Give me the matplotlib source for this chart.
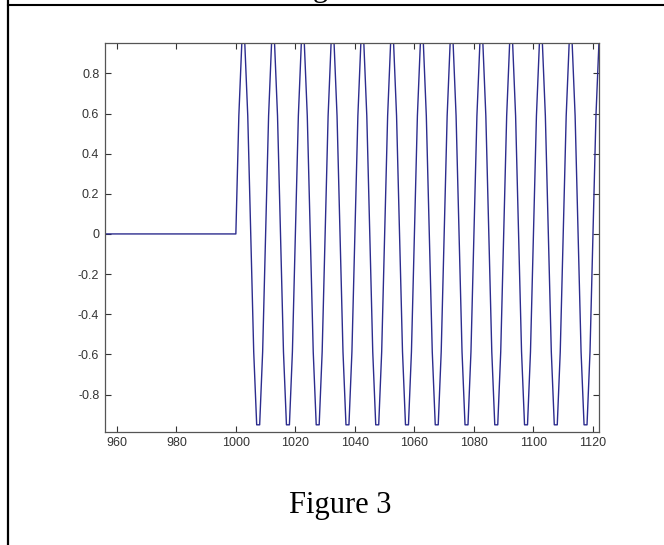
"""
Figure 3: zero signal that switches on to a sampled sine at n = 1000.
MATLAB-style axes inside a document frame, caption below.
"""
import matplotlib.pyplot as plt
import numpy as np
from matplotlib.lines import Line2D

plt.rcParams.update({
    "font.family": ["Liberation Sans", "DejaVu Sans"],
    "font.size": 9,
})

# flat part before the switch-on
FLAT_X = [950, 1000]
FLAT_Y = [0.0, 0.0]

WAVE_START = 1000
WAVE_Y = [
    0.0, 0.588, 0.951, 0.951, 0.588, 0.0, -0.588, -0.951, -0.951, -0.588,
    0.0, 0.588, 0.951, 0.951, 0.588, 0.0, -0.588, -0.951, -0.951, -0.588,
    0.0, 0.588, 0.951, 0.951, 0.588, 0.0, -0.588, -0.951, -0.951, -0.588,
    0.0, 0.588, 0.951, 0.951, 0.588, 0.0, -0.588, -0.951, -0.951, -0.588,
    0.0, 0.588, 0.951, 0.951, 0.588, 0.0, -0.588, -0.951, -0.951, -0.588,
    0.0, 0.588, 0.951, 0.951, 0.588, 0.0, -0.588, -0.951, -0.951, -0.588,
    0.0, 0.588, 0.951, 0.951, 0.588, 0.0, -0.588, -0.951, -0.951, -0.588,
    0.0, 0.588, 0.951, 0.951, 0.588, 0.0, -0.588, -0.951, -0.951, -0.588,
    0.0, 0.588, 0.951, 0.951, 0.588, 0.0, -0.588, -0.951, -0.951, -0.588,
    0.0, 0.588, 0.951, 0.951, 0.588, 0.0, -0.588, -0.951, -0.951, -0.588,
    0.0, 0.588, 0.951, 0.951, 0.588, 0.0, -0.588, -0.951, -0.951, -0.588,
    0.0, 0.588, 0.951, 0.951, 0.588, 0.0, -0.588, -0.951, -0.951, -0.588,
    0.0, 0.588, 0.951,
]

X_TICKS = [960, 980, 1000, 1020, 1040, 1060, 1080, 1100, 1120]
Y_TICKS = [-0.8, -0.6, -0.4, -0.2, 0, 0.2, 0.4, 0.6, 0.8]
Y_TICK_LABELS = ["-0.8", "-0.6", "-0.4", "-0.2", "0", "0.2", "0.4", "0.6", "0.8"]
CAPTION = "Figure 3"

LINE_COLOR = "#2c2c8e"
AXIS_COLOR = "#555555"

fig = plt.figure(figsize=(6.64, 5.45), dpi=100)
ax = fig.add_axes([0.158, 0.208, 0.744, 0.713])

wave_x = WAVE_START + np.arange(len(WAVE_Y))
x = np.concatenate([FLAT_X[:-1], wave_x])
y = np.concatenate([FLAT_Y[:-1], WAVE_Y])
ax.plot(x, y, color=LINE_COLOR, linewidth=1.0)

ax.set_xlim(956, 1122)
ax.set_ylim(-0.985, 0.951)
ax.set_xticks(X_TICKS)
ax.set_xticklabels([str(t) for t in X_TICKS])
ax.set_yticks(Y_TICKS)
ax.set_yticklabels(Y_TICK_LABELS)

ax.tick_params(direction="in", length=4.5, width=0.8, color="#333333",
               labelcolor="#333333", top=True, right=True, pad=4)
for s in ax.spines.values():
    s.set_color(AXIS_COLOR)
    s.set_linewidth(0.9)

# document frame: left rule and top rule
fig.add_artist(Line2D([8 / 664, 8 / 664], [0, 1], transform=fig.transFigure,
                      color="black", linewidth=1.6))
fig.add_artist(Line2D([8 / 664, 1], [1 - 5 / 545, 1 - 5 / 545],
                      transform=fig.transFigure, color="black", linewidth=1.5))

# descender of the cut-off line above, then the caption
fig.text(0.4825, 1.008, "g", ha="center", va="baseline",
         family=["Liberation Serif", "DejaVu Serif"], fontsize=22)
fig.text(0.513, 0.059, CAPTION, ha="center", va="baseline",
         family=["Liberation Serif", "DejaVu Serif"], fontsize=22)

fig.savefig("out.png", dpi=100)
